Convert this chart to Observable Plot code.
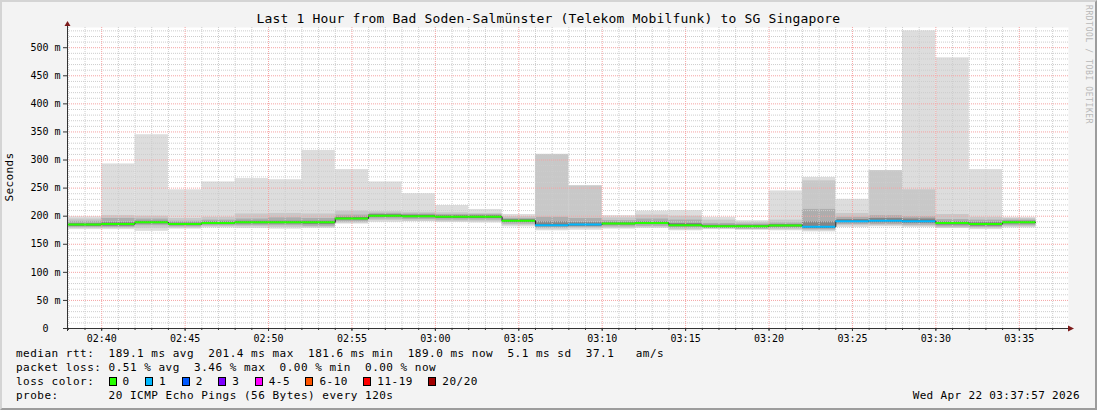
<!DOCTYPE html>
<html><head><meta charset="utf-8">
<script src="https://cdn.jsdelivr.net/npm/d3@7"></script>
<script src="https://cdn.jsdelivr.net/npm/@observablehq/plot@0.6"></script>
<style>
html,body{margin:0;padding:0;background:#f3f3f3;}
#wrap{position:relative;width:1097px;height:410px;background:#f3f3f3;overflow:hidden;font-family:"DejaVu Sans Mono",monospace;color:#000;}
#wrap svg{position:absolute;left:0;top:0;}
#border{position:absolute;left:0;top:0;width:1097px;height:410px;box-sizing:border-box;border-style:solid;border-width:2px;border-color:#d4d4d4 #9c9c9c #9c9c9c #d4d4d4;pointer-events:none;}
.t{position:absolute;white-space:pre;line-height:14px;}
#title{left:0;width:1097px;text-align:center;top:11px;font-size:13px;letter-spacing:0.17px;line-height:16px;}
#ylab{left:10px;top:177px;font-size:11px;letter-spacing:0.4px;transform:translate(-50%,-50%) rotate(-90deg);}
.leg{left:16px;font-size:11px;letter-spacing:0.5px;}
#wm{left:1083px;top:5px;font-size:8px;color:#b8b8b8;writing-mode:vertical-rl;letter-spacing:0.6px;line-height:10px;}
#date{right:17px;top:389px;font-size:11px;letter-spacing:0.35px;}
.box{display:inline-block;box-sizing:border-box;width:8px;height:9px;border:1px solid #000;margin-right:6px;vertical-align:-1px;}
.lab{margin-right:15.4px;}
</style>
</head><body>
<div id="wrap"></div>
<script>
// ---- data ----
const binStart = ["02:38","02:40","02:42","02:44","02:46","02:48","02:50","02:52","02:54","02:56",
  "02:58","03:00","03:02","03:04","03:06","03:08","03:10","03:12","03:14","03:16",
  "03:18","03:20","03:22","03:24","03:26","03:28","03:30","03:32","03:34"];
const medianRtt = [185,186,189,186,188,189,189,189,196,201,200,199,199,192,184,185,187,188,184,182,182,183.5,181,191,192,191,188,186,189];
const lossCount = [0,0,0,0,0,0,0,0,0,0,0,0,0,0,1,1,0,0,0,0,0,0,1,1,1,1,0,0,0];
const maxRtt   = [199,293,345,247,261,267,265,317,283,261,240,219,212,203,310,254,201,209,210,198,192,245,269,230,281,530,482,283,198];
const band2Hi  = [195,201,200,196,198,204,205,204,209,208,207,206,205,199,310,254,197,202,200,193,189,193,263,205,281,247,203,198,196];
const band3Hi  = [191,196,195,191,193,195,197,196,202,205,204,203,203,196,198,196,192,195,193,187,186,188,212,198,201,199,194,193,193];
const band4Hi  = [187,189,191,188,190,191,191,191,198,203,202,201,201,194,190,189,189,190,187,184,184,185,190,194,196,195,190,189,191];
const band4Lo  = [182,182,186,183,185,186,186,185,193,198,197,196,196,189,181,182,184,185,181,179,179,180,178,188,188,187,184,182,186];
const band3Lo  = [180,180,183,181,183,183,183,182,190,195,194,193,193,186,179,180,181,182,179,178,177,178,176,185,185,184,181,180,183];
const band2Lo  = [178,178,178,179,181,181,180,180,188,192,191,190,190,184,177,178,179,180,176,177,176,176,174,183,183,182,179,178,181];
const minRtt   = [176,176,173,177,179,178,177,178,186,189,190,189,188,181,174,175,177,178,174,176,175,174,172,180,181,180,178,176,179];
const yTicks = [0,50,100,150,200,250,300,350,400,450,500];
const xTickLabels = ["02:40","02:45","02:50","02:55","03:00","03:05","03:10","03:15","03:20","03:25","03:30","03:35"];
const lossLabels = ["0","1","2","3","4-5","6-10","11-19","20/20"];
const lossColors = ["#26ff00","#00b8ff","#0059ff","#7e00ff","#ff00ff","#ff5500","#ff0000","#a10000"];
const titleText = "Last 1 Hour from Bad Soden-Salmünster (Telekom Mobilfunk) to SG Singapore";
const legendLines = [
  "median rtt:  189.1 ms avg  201.4 ms max  181.6 ms min  189.0 ms now  5.1 ms sd  37.1   am/s",
  "packet loss: 0.51 % avg  3.46 % max  0.00 % min  0.00 % now",
  "loss color:  ",
  "probe:       20 ICMP Echo Pings (56 Bytes) every 120s"
];
const dateText = "Wed Apr 22 03:37:57 2026";
const startTime = "02:37:57", endTime = "03:37:57";

// ---- build ----
const T = s => new Date(`2026-04-22T${s.length === 5 ? s + ":00" : s}Z`);
const t0 = T(startTime), t1 = T(endTime);
const lossIdx = n => n === 0 ? 0 : n <= 3 ? n : n <= 5 ? 4 : n <= 10 ? 5 : n <= 19 ? 6 : 7;
const rows = binStart.map((s, i) => ({
  x1: T(s), x2: new Date(+T(s) + 120000),
  med: medianRtt[i], max: maxRtt[i], min: minRtt[i],
  h2: band2Hi[i], l2: band2Lo[i], h3: band3Hi[i], l3: band3Lo[i], h4: band4Hi[i], l4: band4Lo[i],
  col: lossColors[lossIdx(lossCount[i])]
}));
const stepPts = rows.map(r => ({x: r.x1, y: r.med})).concat([{x: rows[rows.length-1].x2, y: rows[rows.length-1].med}]);
const yTop = 536;
const minutes = d3.utcMinute.range(T("02:38"), t1);
const minorX = minutes.filter(d => d.getUTCMinutes() % 5 !== 0);
const majorX = xTickLabels.map(T);
const minorY = d3.range(10, yTop, 10).filter(v => v % 50 !== 0);
const majorY = yTicks.filter(v => v > 0);
const fmt = d3.utcFormat("%H:%M");

const chart = Plot.plot({
  width: 1097, height: 410,
  marginLeft: 67, marginRight: 29, marginTop: 27, marginBottom: 82,
  style: {background: "transparent", fontFamily: "DejaVu Sans Mono", fontSize: "10px", color: "#000", overflow: "visible"},
  x: {type: "utc", domain: [t0, t1]},
  y: {domain: [0, yTop]},
  color: {type: "identity"},
  marks: [
    Plot.frame({fill: "white", stroke: "none"}),
    Plot.rectY(rows, {x1: "x1", x2: "x2", y1: "min", y2: "max", fill: "#dddddd"}),
    Plot.rectY(rows, {x1: "x1", x2: "x2", y1: "l2", y2: "h2", fill: "#c8c8c8"}),
    Plot.rectY(rows, {x1: "x1", x2: "x2", y1: "l3", y2: "h3", fill: "#adadad"}),
    Plot.rectY(rows, {x1: "x1", x2: "x2", y1: "l4", y2: "h4", fill: "#858585"}),
    Plot.ruleX(minorX, {stroke: "#cdcdcd", strokeDasharray: "1,1", strokeWidth: 1}),
    Plot.ruleY(minorY, {stroke: "#cdcdcd", strokeDasharray: "1,1", strokeWidth: 1}),
    Plot.ruleX(majorX, {stroke: "#f5a3a3", strokeDasharray: "1,1", strokeWidth: 1}),
    Plot.ruleY(majorY, {stroke: "#f5a3a3", strokeDasharray: "1,1", strokeWidth: 1}),
    Plot.line(stepPts, {x: "x", y: "y", curve: "step-after", stroke: "#202020", strokeWidth: 1}),
    Plot.ruleY(rows, {x1: "x1", x2: "x2", y: "med", stroke: "col", strokeWidth: 2}),
    Plot.axisY({ticks: yTicks, tickFormat: d => d === 0 ? "0\u00a0\u00a0" : d + " m", tickSize: 4, tickPadding: 3, label: null, stroke: "#333"}),
    Plot.axisX({ticks: minutes, tickFormat: null, tickSize: 2, label: null, stroke: "#333", text: null}),
    Plot.axisX({ticks: majorX, tickFormat: fmt, tickSize: 3, tickPadding: 3, label: null, stroke: "#333"})
  ]
});

const wrap = document.getElementById("wrap");
wrap.appendChild(chart);

// axis lines and arrows, positioned through the plot's scales
const X = chart.scale("x"), Y = chart.scale("y");
const xl = X.apply(t0), xr = X.apply(t1), yb = Y.apply(0), yt = Y.apply(yTop);
const svg = d3.select(chart);
const g = svg.append("g").attr("shape-rendering", "crispEdges");
g.append("line").attr("x1", Math.round(xl) + 0.5).attr("x2", Math.round(xl) + 0.5).attr("y1", yt - 4).attr("y2", yb + 3).attr("stroke", "#333");
g.append("line").attr("x1", xl - 4).attr("x2", xr + 2).attr("y1", Math.round(yb) + 0.5).attr("y2", Math.round(yb) + 0.5).attr("stroke", "#333");
svg.append("path").attr("d", `M${xl - 2.5},${yt - 1}L${xl + 3.5},${yt - 1}L${xl + 0.5},${yt - 6}Z`).attr("fill", "#7d1b1b");
svg.append("path").attr("d", `M${xr},${yb - 2.5}L${xr},${yb + 3.5}L${xr + 6},${yb + 0.5}Z`).attr("fill", "#7d1b1b");

// texts
function addText(id, cls, txt, css) {
  const d = document.createElement("div");
  if (id) d.id = id;
  d.className = "t " + (cls || "");
  d.textContent = txt;
  if (css) Object.assign(d.style, css);
  wrap.appendChild(d);
  return d;
}
addText("title", "", titleText);
addText("ylab", "", "Seconds");
addText("wm", "", "RRDTOOL / TOBI OETIKER");
const rowTops = [347, 361, 375, 389];
legendLines.forEach((line, i) => {
  const d = addText(null, "leg", line, {top: rowTops[i] + "px"});
  if (i === 2) {
    lossLabels.forEach((lab, k) => {
      const b = document.createElement("span");
      b.className = "box"; b.style.background = lossColors[k];
      const l = document.createElement("span");
      l.className = "lab"; l.textContent = lab;
      d.appendChild(b); d.appendChild(l);
    });
  }
});
addText("date", "", dateText);
const br = document.createElement("div"); br.id = "border"; wrap.appendChild(br);
</script>
</body></html>
